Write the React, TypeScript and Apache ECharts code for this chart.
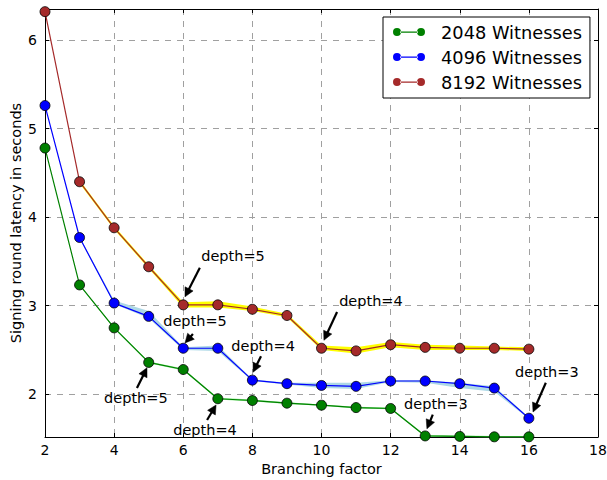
import React, { useEffect, useRef } from "react";
import * as echarts from "echarts";

const branching = [2, 3, 4, 5, 6, 7, 8, 9, 10, 11, 12, 13, 14, 15, 16];
const latency2048 = [4.78, 3.235, 2.75, 2.36, 2.28, 1.95, 1.93, 1.9, 1.877, 1.85, 1.84, 1.53, 1.525, 1.52, 1.52];
const latency4096 = [5.26, 3.77, 3.03, 2.88, 2.52, 2.52, 2.16, 2.12, 2.1, 2.09, 2.15, 2.15, 2.12, 2.07, 1.73];
const latency8192 = [6.32, 4.4, 3.88, 3.44, 3.01, 3.01, 2.96, 2.89, 2.52, 2.49, 2.56, 2.53, 2.52, 2.52, 2.51];

// spread bands, from branching factor 3 onwards
const bandX = [3, 4, 5, 6, 7, 8, 9, 10, 11, 12, 13, 14, 15, 16];
const low2048 = [3.23, 2.74, 2.35, 2.27, 1.94, 1.92, 1.89, 1.87, 1.84, 1.83, 1.522, 1.518, 1.515, 1.515];
const high2048 = [3.24, 2.76, 2.37, 2.29, 1.96, 1.94, 1.91, 1.885, 1.86, 1.85, 1.54, 1.535, 1.53, 1.53];
const low4096 = [3.76, 3.02, 2.86, 2.5, 2.49, 2.15, 2.11, 2.07, 2.06, 2.14, 2.13, 2.07, 2.03, 1.72];
const high4096 = [3.78, 3.06, 2.94, 2.53, 2.55, 2.17, 2.13, 2.13, 2.13, 2.16, 2.16, 2.13, 2.09, 1.74];
const low8192 = [4.38, 3.86, 3.42, 2.98, 2.98, 2.94, 2.87, 2.5, 2.46, 2.53, 2.5, 2.5, 2.5, 2.49];
const high8192 = [4.42, 3.9, 3.46, 3.04, 3.05, 2.99, 2.91, 2.55, 2.53, 2.59, 2.56, 2.55, 2.54, 2.53];

// annotations: label, label point, arrow tail, arrow tip (data coordinates)
const annoText = ["depth=5", "depth=5", "depth=4", "depth=5", "depth=4", "depth=4", "depth=3", "depth=3"];
const annoLabel = [[7.44, 3.56], [6.34, 2.83], [8.31, 2.55], [4.63, 1.96], [6.63, 1.6], [11.43, 3.05], [13.31, 1.89], [16.52, 2.25]];
const annoTail = [[6.48, 3.43], [6.28, 2.68], [8.25, 2.43], [4.66, 2.07], [6.69, 1.71], [10.45, 2.93], [13.22, 1.77], [16.49, 2.13]];
const annoTip = [[6.05, 3.1], [6.05, 2.58], [8.02, 2.25], [4.95, 2.3], [6.95, 1.88], [10.07, 2.61], [13.05, 1.61], [16.12, 1.8]];

const seriesNames = ["2048 Witnesses", "4096 Witnesses", "8192 Witnesses"];
const lineColors = ["#008000", "#0000ff", "#a52a2a"];
const bandColors = ["#90ee90", "#add8e6", "#ffff00"];

const FONT = "DejaVu Sans";

export default function App() {
  const ref = useRef<HTMLDivElement>(null);
  useEffect(() => {
    if (!ref.current) return;
    const chart = echarts.init(ref.current, undefined, { renderer: "svg" });
    const values = [latency2048, latency4096, latency8192];
    const lows = [low2048, low4096, low8192];
    const highs = [high2048, high4096, high8192];

    const bandSeries = lows.map((lo, i) => ({
      type: "custom",
      name: "band-" + i,
      data: bandX.map((x, j) => [x, lo[j], highs[i][j]]),
      silent: true,
      z: 1,
      renderItem: (params: any, api: any) => {
        if (params.dataIndex !== 0) return null;
        const upper = bandX.map((x, j) => api.coord([x, highs[i][j]]));
        const lower = bandX.map((x, j) => api.coord([x, lo[j]])).reverse();
        return {
          type: "polygon",
          shape: { points: upper.concat(lower) },
          style: { fill: bandColors[i], stroke: "none" },
        };
      },
    }));

    const lineSeries = values.map((v, i) => ({
      type: "line",
      name: seriesNames[i],
      data: branching.map((x, j) => [x, v[j]]),
      symbol: "circle",
      symbolSize: 10,
      lineStyle: { color: lineColors[i], width: 1.2 },
      itemStyle: { color: lineColors[i], borderColor: "#000", borderWidth: 0.8 },
      z: 3,
    }));

    const annoSeries = {
      type: "custom",
      name: "annotations",
      data: annoText.map((t, i) => [annoLabel[i][0], annoLabel[i][1], annoTail[i][0], annoTail[i][1], annoTip[i][0], annoTip[i][1]]),
      silent: true,
      clip: false,
      z: 5,
      renderItem: (params: any, api: any) => {
        const idx = params.dataIndex;
        const lab = api.coord([api.value(0), api.value(1)]);
        const tail = api.coord([api.value(2), api.value(3)]);
        const tip = api.coord([api.value(4), api.value(5)]);
        const dx = tip[0] - tail[0];
        const dy = tip[1] - tail[1];
        const len = Math.sqrt(dx * dx + dy * dy);
        const ux = dx / len;
        const uy = dy / len;
        const headL = 9;
        const headW = 4.5;
        const base = [tip[0] - ux * headL, tip[1] - uy * headL];
        const px = -uy;
        const py = ux;
        return {
          type: "group",
          children: [
            {
              type: "line",
              shape: { x1: tail[0], y1: tail[1], x2: base[0] + ux, y2: base[1] + uy },
              style: { stroke: "#000", lineWidth: 2.2 },
            },
            {
              type: "polygon",
              shape: {
                points: [
                  tip,
                  [base[0] + px * headW, base[1] + py * headW],
                  [base[0] - px * headW, base[1] - py * headW],
                ],
              },
              style: { fill: "#000", stroke: "#000", lineWidth: 0.5 },
            },
            {
              type: "text",
              x: lab[0],
              y: lab[1],
              style: {
                text: annoText[idx],
                fill: "#000",
                font: "14.5px 'DejaVu Sans'",
                align: "center",
                verticalAlign: "middle",
              },
            },
          ],
        };
      },
    };

    const axisCommon = {
      type: "value",
      axisLine: { show: true, lineStyle: { color: "#000", width: 1 } },
      axisTick: { show: true, inside: true, length: 4, lineStyle: { color: "#000" } },
    };

    chart.setOption({
      animation: false,
      backgroundColor: "#fff",
      grid: { left: 45, right: 9, top: 9, bottom: 43, containLabel: false, outerBoundsMode: "none" },
      legend: {
        data: seriesNames,
        orient: "vertical",
        left: 383,
        top: 17,
        padding: [5, 8, 6, 10],
        itemGap: 5,
        backgroundColor: "#fff",
        borderColor: "#000",
        borderWidth: 1,
        borderRadius: 0,
        itemWidth: 32,
        itemHeight: 9,
        icon: "path://M0,4.5 A4,4 0 1,0 8,4.5 A4,4 0 1,0 0,4.5 Z M7,4 L25,4 L25,5.2 L7,5.2 Z M24,4.5 A4,4 0 1,0 32,4.5 A4,4 0 1,0 24,4.5 Z",
        itemStyle: { borderWidth: 0 },
        textStyle: { fontFamily: FONT, fontSize: 17.8, color: "#000", lineHeight: 20, padding: [0, 0, 0, 11] },
      },
      xAxis: [
        {
          ...axisCommon,
          min: 2,
          max: 18,
          interval: 2,
          name: "Branching factor",
          nameLocation: "middle",
          nameGap: 24,
          nameMoveOverlap: false,
          nameTextStyle: { fontFamily: FONT, fontSize: 14.5, color: "#000" },
          axisLabel: { fontFamily: FONT, fontSize: 14, color: "#000", margin: 6 },
          splitLine: { show: true, lineStyle: { color: "#a0a0a0", type: [6, 6], width: 1 } },
        },
        {
          ...axisCommon,
          position: "top",
          min: 2,
          max: 18,
          interval: 2,
          axisLabel: { show: false },
          splitLine: { show: false },
        },
      ],
      yAxis: [
        {
          ...axisCommon,
          min: 1.518,
          max: 6.35,
          splitNumber: 5,
          name: "Signing round latency in seconds",
          nameLocation: "middle",
          nameGap: 22,
          nameMoveOverlap: false,
          nameTextStyle: { fontFamily: FONT, fontSize: 14.5, color: "#000" },
          axisLabel: { fontFamily: FONT, fontSize: 14, color: "#000", margin: 8, showMinLabel: false, showMaxLabel: false },
          splitLine: { show: true, lineStyle: { color: "#a0a0a0", type: [6, 6], width: 1 } },
        },
        {
          ...axisCommon,
          position: "right",
          min: 1.518,
          max: 6.35,
          splitNumber: 5,
          axisLabel: { show: false },
          splitLine: { show: false },
        },
      ],
      series: [...bandSeries, ...lineSeries, annoSeries],
    });
    return () => chart.dispose();
  }, []);
  return <div ref={ref} style={{ width: 607, height: 480, position: "absolute", left: 0, top: 0 }} />;
}
